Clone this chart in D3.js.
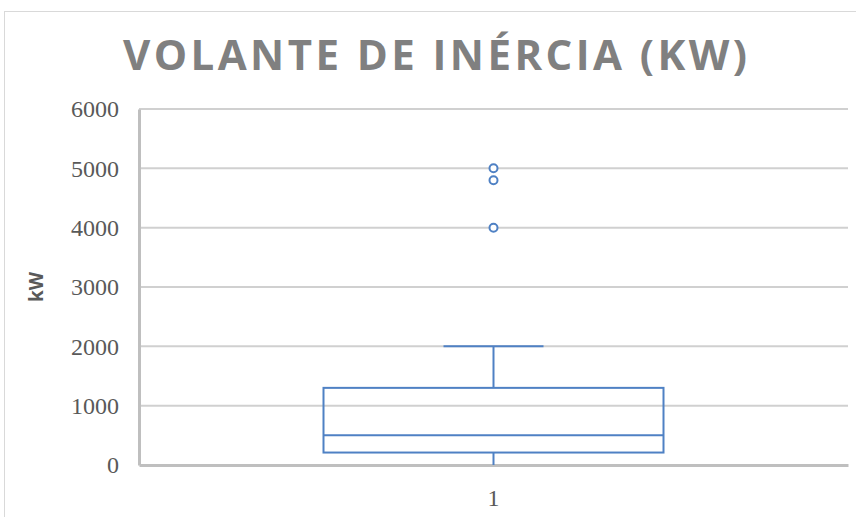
<!DOCTYPE html>
<html>
<head>
<meta charset="utf-8">
<script src="https://cdn.jsdelivr.net/npm/d3@7"></script>
<style>
  body { margin: 0; background: #fff; }
</style>
</head>
<body>
<script>
var width = 856;
var height = 517;
var margin = {top: 109, right: 8, bottom: 52, left: 139};

// dados
var categories = ['1'];
var yTicks = [0, 1000, 2000, 3000, 4000, 5000, 6000];
var boxStats = [{cat: '1', min: 0, q1: 210, median: 500, q3: 1300, max: 2000}];
var outliers = [{cat: '1', value: 4000}, {cat: '1', value: 4800}, {cat: '1', value: 5000}];

var blue = '#4f81c4';
var grid = '#d0d0d0';

var svg = d3.select('body')
  .append('svg')
  .attr('width', width)
  .attr('height', height);

// borda da área do gráfico
svg.append('rect')
  .attr('x', 4.5).attr('y', 11.5)
  .attr('width', 900).attr('height', 600)
  .style('fill', 'none')
  .style('stroke', '#d9d9d9');

var x = d3.scaleBand().domain(categories).range([margin.left, width - margin.right]);
var y = d3.scaleLinear().domain([0, 6000]).range([height - margin.bottom, margin.top]);

// linhas de grade
svg.selectAll('line.grid')
  .data(yTicks.filter(d => d > 0))
  .enter()
  .append('line')
  .attr('class', 'grid')
  .attr('x1', margin.left).attr('x2', width - margin.right)
  .attr('y1', d => y(d)).attr('y2', d => y(d))
  .style('stroke', grid)
  .style('stroke-width', 2);

// eixo y
var yAxis = svg.append('g')
  .attr('transform', 'translate(' + margin.left + ',0)')
  .call(d3.axisLeft(y).tickValues(yTicks).tickFormat(d3.format('d')).tickSize(0).tickPadding(20));
yAxis.select('.domain').style('stroke', '#bfbfbf').style('stroke-width', 3);
yAxis.selectAll('text')
  .style('font-family', '"Liberation Serif", "DejaVu Serif", serif')
  .style('font-size', '24px')
  .style('fill', '#595959');

// eixo x
var xAxis = svg.append('g')
  .attr('transform', 'translate(0,' + y(0) + ')')
  .call(d3.axisBottom(x).tickSize(0).tickPadding(24));
xAxis.select('.domain').style('stroke', '#bfbfbf').style('stroke-width', 3);
xAxis.selectAll('text')
  .style('font-family', '"Liberation Serif", "DejaVu Serif", serif')
  .style('font-size', '24px')
  .style('fill', '#595959');

// caixa
var boxW = 340;
var capW = 100;
var box = svg.selectAll('g.box')
  .data(boxStats)
  .enter()
  .append('g')
  .attr('class', 'box');

box.append('line')
  .attr('x1', d => x(d.cat) + x.bandwidth() / 2).attr('x2', d => x(d.cat) + x.bandwidth() / 2)
  .attr('y1', d => y(d.max)).attr('y2', d => y(d.q3))
  .style('stroke', blue).style('stroke-width', 2);
box.append('line')
  .attr('x1', d => x(d.cat) + x.bandwidth() / 2).attr('x2', d => x(d.cat) + x.bandwidth() / 2)
  .attr('y1', d => y(d.q1)).attr('y2', d => y(d.min))
  .style('stroke', blue).style('stroke-width', 2);
box.append('line')
  .attr('x1', d => x(d.cat) + x.bandwidth() / 2 - capW / 2).attr('x2', d => x(d.cat) + x.bandwidth() / 2 + capW / 2)
  .attr('y1', d => y(d.max)).attr('y2', d => y(d.max))
  .style('stroke', blue).style('stroke-width', 2);
box.append('rect')
  .attr('x', d => x(d.cat) + x.bandwidth() / 2 - boxW / 2)
  .attr('y', d => y(d.q3))
  .attr('width', boxW)
  .attr('height', d => y(d.q1) - y(d.q3))
  .style('fill', 'none').style('stroke', blue).style('stroke-width', 2);
box.append('line')
  .attr('x1', d => x(d.cat) + x.bandwidth() / 2 - boxW / 2).attr('x2', d => x(d.cat) + x.bandwidth() / 2 + boxW / 2)
  .attr('y1', d => y(d.median)).attr('y2', d => y(d.median))
  .style('stroke', blue).style('stroke-width', 2);

// pontos fora da curva
svg.selectAll('circle.out')
  .data(outliers)
  .enter()
  .append('circle')
  .attr('class', 'out')
  .attr('cx', d => x(d.cat) + x.bandwidth() / 2)
  .attr('cy', d => y(d.value))
  .attr('r', 4)
  .style('fill', '#fff').style('stroke', blue).style('stroke-width', 2);

// título
svg.append('text')
  .attr('x', 123).attr('y', 70)
  .attr('textLength', 624)
  .attr('lengthAdjust', 'spacing')
  .style('font-family', '"Open Sans", sans-serif')
  .style('font-weight', 700)
  .style('font-size', '42px')
  .style('fill', '#808080')
  .text('VOLANTE DE INÉRCIA (KW)');

// rótulo do eixo y
svg.append('text')
  .attr('transform', 'translate(43,287) rotate(-90)')
  .attr('text-anchor', 'middle')
  .style('font-family', '"Open Sans", sans-serif')
  .style('font-weight', 700)
  .style('font-size', '19px')
  .style('fill', '#595959')
  .text('kW');
</script>
</body>
</html>
